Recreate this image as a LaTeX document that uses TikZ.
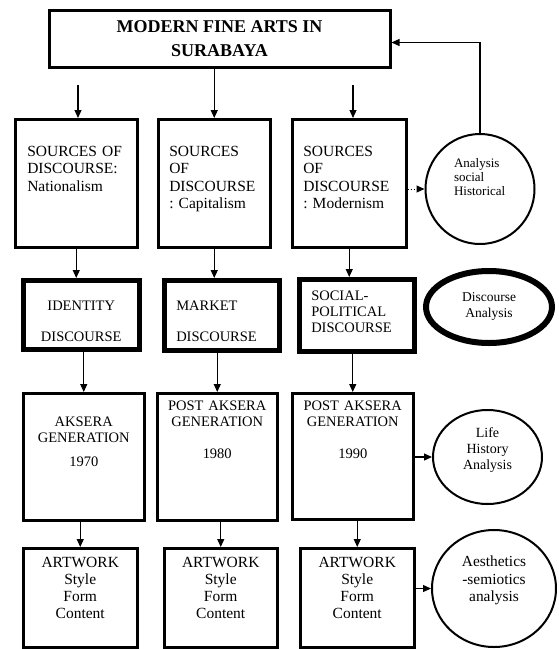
\documentclass[tikz,border=0pt]{standalone}
\usepackage{fontspec}
\setmainfont{Liberation Serif}
\usetikzlibrary{arrows.meta,shapes.geometric}
\frenchspacing

\begin{document}
\begin{tikzpicture}[x=1pt, y=-1pt,
    box/.style={draw, anchor=north west, inner ysep=0pt},
    src/.style={line width=2.5pt, align=left, text height=37pt, text depth=91pt,
        font=\fontsize{15.5}{17.5}\selectfont},
    disc/.style={line width=4.5pt, font=\fontsize{14.5}{16}\selectfont},
    gen/.style={line width=2.5pt, align=center, inner xsep=6pt,
        font=\fontsize{14.5}{16}\selectfont},
    art/.style={line width=2.5pt, align=center, inner xsep=6pt, text height=19pt,
        text depth=80pt, font=\fontsize{15.5}{17}\selectfont},
    oval/.style={draw, ellipse, inner sep=0pt, align=center},
    arr/.style={-{Triangle[length=8pt,width=7pt]}, line width=1.2pt}]
\useasboundingbox (0,0) rectangle (558,649);

    \node[draw, line width=3pt, minimum width=341pt, minimum height=57pt, align=center,
        font=\fontsize{18}{24}\selectfont\bfseries] (top) at (219.5,38.5) {MODERN FINE ARTS IN\\SURABAYA};

    % sources of discourse
    \node[box, src, inner xsep=12pt, text width=98pt] (s1) at (14,118) {SOURCES OF\\DISCOURSE:\\Nationalism};
    \node[box, src, inner xsep=11pt, text width=90pt] (s2) at (157,118) {SOURCES\\OF\\DISCOURSE\\: Capitalism};
    \node[box, src, inner xsep=11pt, text width=92pt] (s3) at (291,118) {SOURCES\\OF\\DISCOURSE\\: Modernism};

    % discourses
    \node[box, disc, align=center, inner xsep=8pt, text width=100pt, text height=30pt, text depth=39pt] (d1) at (21,278) {IDENTITY\\[15pt]DISCOURSE};
    \node[box, disc, align=left, inner xsep=12pt, text width=91pt, text height=30pt, text depth=40pt] (d2) at (162,278) {MARKET\\[15pt]DISCOURSE};
    \node[box, disc, align=left, inner xsep=12pt, text width=91pt, text height=21pt, text depth=51pt] (d3) at (297,277) {SOCIAL-\\POLITICAL\\DISCOURSE};

    % generations
    \node[box, gen, text width=109pt, text height=33pt, text depth=94pt] (g1) at (22,392) {AKSERA\\GENERATION\\[8pt]1970};
    \node[box, gen, text width=108pt, text height=17pt, text depth=110pt] (g2) at (156,392) {POST AKSERA\\GENERATION\\[16pt]1980};
    \node[box, gen, text width=109pt, text height=17pt, text depth=109pt] (g3) at (291,392) {POST AKSERA\\GENERATION\\[16pt]1990};

    % artworks
    \node[box, art, text width=102pt] (w1) at (22,547) {ARTWORK\\Style\\Form\\Content};
    \node[box, art, text width=101pt] (w2) at (163,547) {ARTWORK\\Style\\Form\\Content};
    \node[box, art, text width=102pt] (w3) at (299,547) {ARTWORK\\Style\\Form\\Content};

    % analyses
    \node[oval, line width=2pt, minimum width=109pt, minimum height=110pt, align=left, text width=52pt,
        text height=9pt, text depth=53pt, font=\fontsize{13}{14}\selectfont] (h) at (480,189) {Analysis\\social\\Historical};
    \node[oval, line width=6pt, minimum width=126pt, minimum height=72pt, text width=64pt,
        text height=9pt, text depth=20pt, font=\fontsize{13.5}{16}\selectfont] (da) at (489,307) {Discourse\\Analysis};
    \node[oval, line width=2pt, minimum width=109pt, minimum height=94pt, text width=60pt,
        text height=10pt, text depth=50pt, font=\fontsize{14}{16}\selectfont] (lh) at (487.5,457) {Life\\History\\Analysis};
    \node[oval, line width=2pt, minimum width=124pt, minimum height=117pt, text width=74pt,
        text height=11pt, text depth=55pt, font=\fontsize{15.4}{17.5}\selectfont] (ae) at (494,588.5) {Aesthetics\\-semiotics\\analysis};

    \coordinate (t1) at (78,85);
    \coordinate (t3) at (353,85);

    \draw[arr] (t1) -- (t1 |- s1.north);
    \draw[arr] (top.south -| s2.north) -- (s2.north);
    \draw[arr] (t3) -- (t3 |- s3.north);

    \draw[arr] (s1.south) -- (s1.south |- d1.north);
    \draw[arr] (s2.south) -- (s2.south |- d2.north);
    \draw[arr] (s3.south) -- (s3.south |- d3.north);

    \draw[arr] (g1.north |- d1.south) -- (g1.north);
    \draw[arr] (g2.north |- d2.south) -- (g2.north);
    \draw[arr] (g3.north |- d3.south) -- (g3.north);

    \draw[arr] (w1.north |- g1.south) -- (w1.north);
    \draw[arr] (w2.north |- g2.south) -- (w2.north);
    \draw[arr] (w3.north |- g3.south) -- (w3.north);

    \draw[arr, line width=1pt, dotted] (h.west -| s3.east) -- (h.west);
    \draw[arr] (h.north) |- ([yshift=-4pt]top.east);
    \draw[arr] (g3.east |- lh.west) -- (lh.west);
    \draw[arr] (ae.west -| w3.east) -- (ae.west);

\end{tikzpicture}
\end{document}
